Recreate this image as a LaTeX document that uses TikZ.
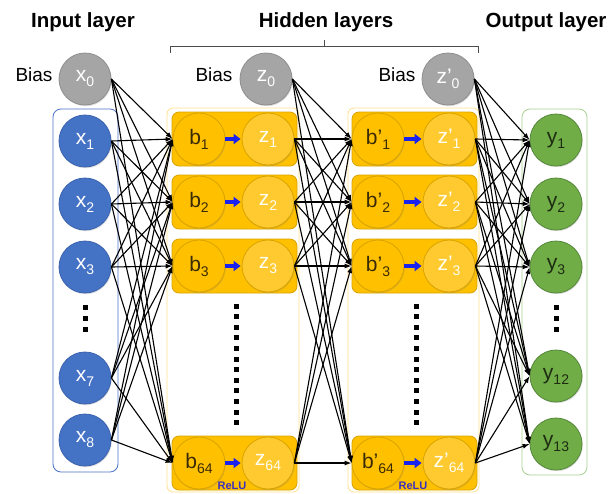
\documentclass[tikz,border=0pt]{standalone}
\usepackage{fontspec}
\setmainfont{Liberation Sans}
\usetikzlibrary{arrows.meta,shadows}
\definecolor{inblue}{HTML}{4472C4}
\definecolor{inbluedk}{HTML}{3A62AE}
\definecolor{biasgray}{HTML}{A5A5A5}
\definecolor{biasgraydk}{HTML}{8E8E8E}
\definecolor{orng}{HTML}{FFC000}
\definecolor{orngdk}{HTML}{D9A400}
\definecolor{zfill}{HTML}{FFC930}
\definecolor{grn}{HTML}{70AD47}
\definecolor{grndk}{HTML}{55883A}
\definecolor{boxyel}{HTML}{FFE08A}
\definecolor{boxgrn}{HTML}{A9D18E}
\definecolor{boxblue}{HTML}{4A74C6}
\definecolor{btext}{HTML}{3A2A05}
\definecolor{ytext}{HTML}{1E2C12}
\definecolor{reluc}{HTML}{1A22F0}
\definecolor{relutxt}{HTML}{3B2FC0}
\newcommand\lsub[1]{\raisebox{-0.45ex}{\fontsize{14}{14}\selectfont #1}}
\tikzset{
  neuron/.style={circle, minimum size=52pt, inner sep=0pt, line width=0.8pt,
    font=\fontsize{21}{21}\selectfont,
    drop shadow={opacity=0.25, shadow xshift=0.8pt, shadow yshift=-1.2pt}},
  xnode/.style={neuron, fill=inblue, draw=inbluedk, text=white},
  bias/.style={neuron, fill=biasgray, draw=biasgraydk, text=white},
  bnode/.style={neuron, fill=orng, draw=orngdk, text=btext},
  znode/.style={neuron, fill=zfill, draw=orngdk, text=white!95!yellow},
  ynode/.style={neuron, fill=grn, draw=grndk, text=ytext},
  rowbox/.style={fill=orng, draw=orngdk, line width=0.8pt, rounded corners=7pt},
  conn/.style={draw=black, line width=1.1pt, -{Latex[length=7pt,width=5pt]}},
  relu/.style={draw=reluc, line width=3.4pt, -{Triangle[length=7pt,width=10pt]}, shorten <=0pt, shorten >=1pt},
  title/.style={font=\bfseries\fontsize{20.5}{20.5}\selectfont},
  biaslbl/.style={font=\fontsize{19}{19}\selectfont},
  dotsq/.style={fill=black},
}
\begin{document}
\begin{tikzpicture}[x=1pt,y=-1pt]
\useasboundingbox (0,0) rectangle (612,493);
\fill[white] (0,0) rectangle (612,493);
% titles
\node[title] (tin) at (83,22) {Input layer};
\node[title] (thid) at (326,22) {Hidden layers};
\node[title, anchor=east] (tout) at (610,22) {Output layer};
% bracket
\draw[gray!60!black, line width=0.8pt] (170,53) -- (170,46) -- (478,46) -- (478,53);
\draw[gray!60!black, line width=0.8pt] (324,46) -- (324,40);
% layer boxes
\draw[boxblue, line width=0.8pt, rounded corners=8pt] (53,109) rectangle (118,472);
\draw[boxyel, line width=0.8pt, rounded corners=6pt] (167,108) rectangle (299,492);
\draw[boxyel, line width=0.8pt, rounded corners=6pt] (348,108) rectangle (479,492);
\draw[boxgrn, line width=0.8pt, rounded corners=8pt] (522,109) rectangle (587,475);
% row boxes
\foreach \yy in {139,202,266,463} {
  \draw[rowbox] (172,\yy-27) rectangle (297,\yy+27);
  \draw[rowbox] (352,\yy-27) rectangle (477,\yy+27);
}
% bias nodes
\node[bias] (x0) at (85,79) {x\lsub{0}};
\node[bias] (z0) at (266,79) {z\lsub{0}};
\node[bias] (zp0) at (448,79) {z'\lsub{0}};
\node[biaslbl] (bl1) at (34,75) {Bias};
\node[biaslbl] (bl2) at (214,75) {Bias};
\node[biaslbl] (bl3) at (397,75) {Bias};
% input nodes
\node[xnode] (x1) at (85,141) {x\lsub{1}};
\node[xnode] (x2) at (85,204) {x\lsub{2}};
\node[xnode] (x3) at (85,267) {x\lsub{3}};
\node[xnode] (x7) at (85,378) {x\lsub{7}};
\node[xnode] (x8) at (85,440) {x\lsub{8}};
% hidden layers
\foreach \i/\yy in {1/139,2/202,3/266,64/463} {
  \node[bnode] (b\i) at (199,\yy) {b\lsub{\i}};
  \node[znode] (z\i) at (268,\yy) {z\lsub{\i}};
  \node[bnode] (bp\i) at (378,\yy) {b'\lsub{\i}};
  \node[znode] (zp\i) at (449,\yy) {z'\lsub{\i}};
  \draw[relu] (b\i.east) -- (z\i.west);
  \draw[relu] (bp\i.east) -- (zp\i.west);
}
% output nodes
\node[ynode] (y1) at (556,140) {y\lsub{1}};
\node[ynode] (y2) at (556,204) {y\lsub{2}};
\node[ynode] (y3) at (556,267) {y\lsub{3}};
\node[ynode] (y12) at (556,376) {y\lsub{12}};
\node[ynode] (y13) at (556,444) {y\lsub{13}};
% ReLU labels
\node[font=\bfseries\fontsize{11}{11}\selectfont, text=relutxt] (r1) at (232,486) {ReLU};
\node[font=\bfseries\fontsize{11}{11}\selectfont, text=relutxt] (r2) at (413,486) {ReLU};
% dots
\foreach \yy in {307,318,329} {
  \fill[dotsq] (82.7,\yy-2.5) rectangle (87.7,\yy+2.5);
  \fill[dotsq] (553.5,\yy-2.5) rectangle (558.5,\yy+2.5);
}
\foreach \k in {0,...,11} {
  \fill[dotsq] (233.5,306+\k*10.6-2.5) rectangle (238.5,306+\k*10.6+2.5);
  \fill[dotsq] (413.5,306+\k*10.6-2.5) rectangle (418.5,306+\k*10.6+2.5);
}
% connections
\foreach \s in {x0,x1,x2,x3,x7,x8}
  \foreach \t in {b1,b2,b3,b64}
    \draw[conn] (\s.east) -- (\t.west);
\foreach \s in {z0,z1,z2,z3,z64}
  \foreach \t in {bp1,bp2,bp3,bp64}
    \draw[conn] (\s.east) -- (\t.west);
\foreach \s in {zp0,zp1,zp2,zp3,zp64}
  \foreach \t in {y1,y2,y3,y12,y13}
    \draw[conn] (\s.east) -- (\t.west);
\end{tikzpicture}
\end{document}
